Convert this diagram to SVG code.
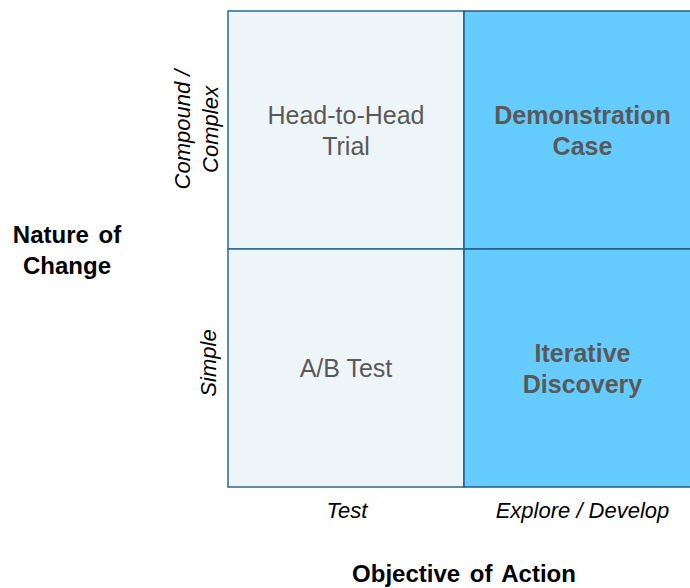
<svg xmlns="http://www.w3.org/2000/svg" width="690" height="588" viewBox="0 0 690 588">
  <style>
    .cell-light { fill: #EEF5F8; stroke: #2A6A90; stroke-width: 1.5; }
    .cell-blue { fill: #66CCFF; stroke: #1F5F85; stroke-width: 1.5; }
    .label { font-family: "Liberation Sans", Arial, sans-serif; font-size: 25px; fill: #595959; text-anchor: middle; }
    .label-bold { font-weight: bold; }
    .axis-tick { font-family: "Liberation Sans", Arial, sans-serif; font-size: 22px; font-style: italic; fill: #000; text-anchor: middle; }
    .axis-title { font-family: "Liberation Sans", Arial, sans-serif; font-size: 24px; font-weight: bold; fill: #000; text-anchor: middle; word-spacing: 3px; }
  </style>

  <rect width="690" height="588" fill="#FFFFFF"/>

  <!-- quadrant cells -->
  <g id="head-to-head-trial">
    <rect class="cell-light" x="228" y="11" width="236" height="238"/>
    <text class="label" x="346" y="124">Head-to-Head</text>
    <text class="label" x="346" y="155">Trial</text>
  </g>
  <g id="demonstration-case">
    <rect class="cell-blue" x="464" y="11" width="240" height="238"/>
    <text class="label label-bold" x="582.5" y="124">Demonstration</text>
    <text class="label label-bold" x="582.5" y="155">Case</text>
  </g>
  <g id="ab-test">
    <rect class="cell-light" x="228" y="249" width="236" height="238"/>
    <text class="label" x="346" y="377">A/B Test</text>
  </g>
  <g id="iterative-discovery">
    <rect class="cell-blue" x="464" y="249" width="240" height="238"/>
    <text class="label label-bold" x="582.5" y="362">Iterative</text>
    <text class="label label-bold" x="582.5" y="393">Discovery</text>
  </g>

  <!-- vertical axis ticks -->
  <g id="tick-compound">
    <text class="axis-tick" transform="translate(190,129.5) rotate(-90)">Compound /</text>
    <text class="axis-tick" transform="translate(218,129.5) rotate(-90)">Complex</text>
  </g>
  <g id="tick-simple">
    <text class="axis-tick" transform="translate(216,363) rotate(-90)">Simple</text>
  </g>

  <!-- horizontal axis ticks -->
  <g id="tick-test">
    <text class="axis-tick" x="347" y="518">Test</text>
  </g>
  <g id="tick-explore">
    <text class="axis-tick" x="582.5" y="518">Explore / Develop</text>
  </g>

  <!-- axis titles -->
  <g id="title-nature">
    <text class="axis-title" x="67" y="243">Nature of</text>
    <text class="axis-title" x="67" y="274">Change</text>
  </g>
  <g id="title-objective">
    <text class="axis-title" x="464" y="582">Objective of Action</text>
  </g>
</svg>
